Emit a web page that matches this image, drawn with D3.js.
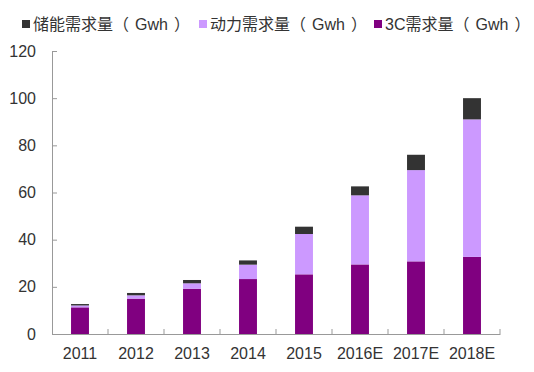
<!DOCTYPE html>
<html>
<head>
<meta charset="utf-8">
<script src="https://cdn.jsdelivr.net/npm/d3@7"></script>
<style>
  body { margin: 0; background: #fff; }
  text { font-family: "Liberation Sans", Arial, "Noto Sans CJK SC", sans-serif; fill: #333; }
</style>
</head>
<body>
<div id="chart"></div>
<script>
// data
const years = ['2011', '2012', '2013', '2014', '2015', '2016E', '2017E', '2018E'];
const demand3C = [11.3, 15.0, 19.2, 23.3, 25.3, 29.5, 30.8, 32.7];
const demandPower = [0.8, 1.4, 2.3, 6.1, 17.1, 29.3, 38.7, 58.3];
const demandStorage = [0.6, 1.0, 1.4, 1.8, 3.1, 3.8, 6.5, 9.0];
const yTicks = [0, 20, 40, 60, 80, 100, 120];

const seriesNames = ['3C需求量', '动力需求量', '储能需求量'];
const legendOrder = ['储能需求量', '动力需求量', '3C需求量'];
const unitLabel = 'Gwh';
const colors = {
    '3C需求量': '#800080',
    '动力需求量': '#cc99ff',
    '储能需求量': '#333333'
};

const config = {
    width: 534,
    height: 372,
    margin: { top: 51, right: 34, bottom: 38, left: 52 }
};

const width = config.width - config.margin.left - config.margin.right;
const height = config.height - config.margin.top - config.margin.bottom;

const svg = d3.select('#chart').append('svg')
    .attr('width', config.width)
    .attr('height', config.height);

const chart = svg.append('g')
    .attr('transform', `translate(${config.margin.left},${config.margin.top})`);

// build rows for the stack
const rows = years.map((y, i) => ({
    year: y,
    [seriesNames[0]]: demand3C[i],
    [seriesNames[1]]: demandPower[i],
    [seriesNames[2]]: demandStorage[i]
}));

const stacked = d3.stack().keys(seriesNames)(rows);

// scales
const xScale = d3.scaleBand()
    .domain(years)
    .range([0, width])
    .paddingInner(0.68)
    .paddingOuter(0.34);

const yScale = d3.scaleLinear()
    .domain([0, 120])
    .range([height, 0]);

// bars
chart.selectAll('.series')
    .data(stacked)
    .join('g')
        .attr('class', 'series')
        .attr('fill', d => colors[d.key])
    .selectAll('rect')
    .data(d => d)
    .join('rect')
        .attr('x', d => xScale(d.data.year))
        .attr('y', d => yScale(d[1]))
        .attr('width', xScale.bandwidth())
        .attr('height', d => yScale(d[0]) - yScale(d[1]));

// y axis
const yAxis = d3.axisLeft(yScale)
    .tickValues(yTicks)
    .tickSize(-5)
    .tickPadding(16);

chart.append('g')
    .attr('class', 'axis y-axis')
    .call(yAxis)
    .call(g => g.selectAll('.domain').attr('stroke', '#999'))
    .call(g => g.selectAll('.tick line').attr('stroke', '#999'))
    .call(g => g.selectAll('text')
        .style('font-size', '16px')
        .attr('fill', '#333'));

// x axis (labels only, boundary ticks drawn below)
const xAxis = d3.axisBottom(xScale)
    .tickSize(0)
    .tickPadding(14);

chart.append('g')
    .attr('class', 'axis x-axis')
    .attr('transform', `translate(0,${height})`)
    .call(xAxis)
    .call(g => g.select('.domain').attr('stroke', '#999'))
    .call(g => g.selectAll('text')
        .style('font-size', '16px')
        .attr('fill', '#333'));

// category boundary ticks
const step = xScale.step();
chart.append('g')
    .selectAll('line')
    .data(years.slice(1).concat(['end']))
    .join('line')
        .attr('x1', (d, i) => step * (i + 1))
        .attr('x2', (d, i) => step * (i + 1))
        .attr('y1', height)
        .attr('y2', height - 5)
        .attr('stroke', '#999');

// legend
const legendX = [22, 199, 374];
const legend = svg.append('g')
    .selectAll('g')
    .data(legendOrder)
    .join('g')
        .attr('transform', (d, i) => `translate(${legendX[i]},24)`);

legend.append('rect')
    .attr('x', 0)
    .attr('y', -4)
    .attr('width', 8)
    .attr('height', 8)
    .attr('fill', d => colors[d]);

const legendText = legend.append('text')
    .attr('x', 11)
    .attr('y', 0)
    .attr('dy', '0.35em')
    .style('font-size', '16px');

legendText.append('tspan').text(d => d);
legendText.append('tspan').text('（');
legendText.append('tspan').attr('dx', 6).text(unitLabel);
legendText.append('tspan').attr('dx', 6).text('）');
</script>
</body>
</html>
